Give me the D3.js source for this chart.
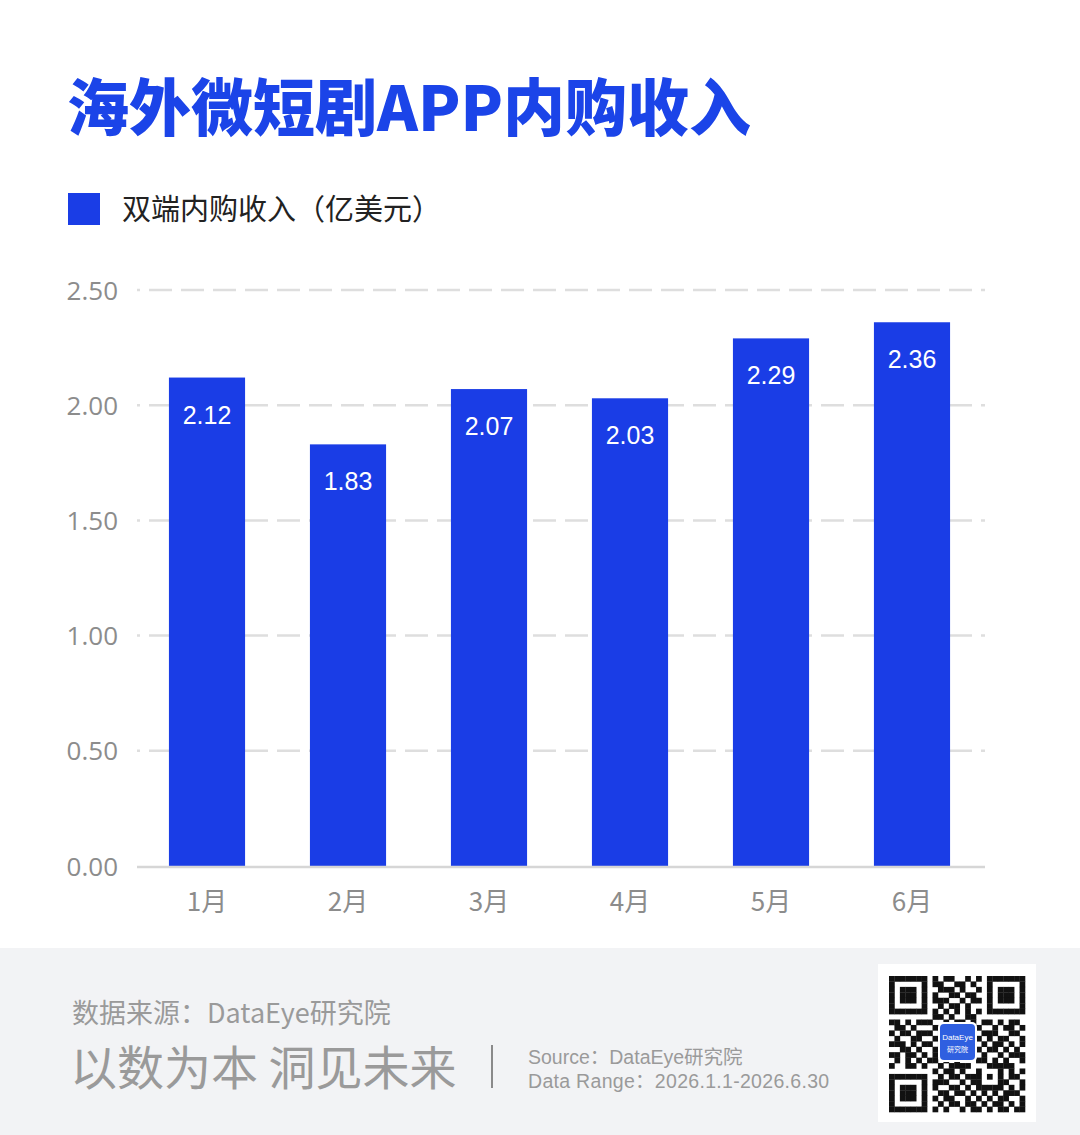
<!DOCTYPE html>
<html><head><meta charset="utf-8">
<script src="https://cdn.jsdelivr.net/npm/d3@7"></script>
<style>
html,body{margin:0;padding:0;background:#fff;}
svg{display:block;}
</style></head>
<body>
<script>
const title = "海外微短剧APP内购收入";
const seriesName = "双端内购收入（亿美元）";
const months = ["1月","2月","3月","4月","5月","6月"];
const revenue = [2.12, 1.83, 2.07, 2.03, 2.29, 2.36];
const yTicks = [0, 0.5, 1.0, 1.5, 2.0, 2.5];
const sourceCN = "数据来源：DataEye研究院";
const slogan = "以数为本 洞见未来";
const sourceEN = "Source：DataEye研究院";
const rangeEN = "Data Range：2026.1.1-2026.6.30";
const qrRows = [
"1111111010110010101111111",
"1000001011001101001000001",
"1011101001110100101011101",
"1011101010011011001011101",
"1011101011100101101011101",
"1000001001011010001000001",
"1111111010101010101111111",
"0000000011010011000000000",
"1101011100101101011010110",
"0110100011010110100101101",
"1011011101001011011100110",
"0100110010110100101011001",
"1110101101001101010110101",
"0011010010110010101101010",
"1101101011010111010010111",
"0101010110101000110101001",
"1001101001011110001111100",
"0000000010110100100010101",
"1111111001011011101010110",
"1000001011100101100011001",
"1011101010011010111110101",
"1011101001101101010101110",
"1011101010110010101011001",
"1000001001011011010110101",
"1111111010100101101011011"
];

const W = 1080, H = 1135;
const BLUE = "#1a3de6";
const CJK = "'Noto Sans CJK SC','Noto Sans',sans-serif";
const NUM = "'Open Sans','Noto Sans',sans-serif";
const SMALL = "'Liberation Sans','Noto Sans CJK SC',sans-serif";

const svg = d3.select("body").append("svg").attr("width", W).attr("height", H);
svg.append("rect").attr("width", W).attr("height", H).attr("fill", "#fff");

// Title
svg.append("text").attr("x", 67).attr("y", 131)
  .attr("font-family", CJK).attr("font-weight", 900).attr("font-size", 62)
  .attr("fill", "#1b44e8").attr("letter-spacing", 0).text(title);

// Legend
svg.append("rect").attr("x", 68).attr("y", 193).attr("width", 32).attr("height", 32).attr("fill", BLUE);
svg.append("text").attr("x", 122).attr("y", 220)
  .attr("font-family", CJK).attr("font-size", 29).attr("fill", "#222").text(seriesName);

// Scales
const x = d3.scaleBand().domain(months).range([136.5, 982.5]).paddingInner(0.46).paddingOuter(0.23);
const y = d3.scaleLinear().domain([0, 2.5]).range([866, 290]);

// Gridlines
const grid = svg.append("g");
grid.selectAll("line").data(yTicks.filter(d => d > 0)).join("line")
  .attr("x1", 137).attr("x2", 985)
  .attr("y1", d => y(d)).attr("y2", d => y(d))
  .attr("stroke", "#dedede").attr("stroke-width", 2.5)
  .attr("stroke-dasharray", "23,9").attr("stroke-dashoffset", 20);

// Y axis labels
const yAxis = d3.axisLeft(y).tickValues(yTicks).tickFormat(d3.format(".2f")).tickSize(0).tickPadding(0);
const yg = svg.append("g").attr("transform", "translate(118,0)").call(yAxis);
yg.select(".domain").remove();
yg.selectAll("text").attr("font-family", NUM).attr("font-size", 26).attr("fill", "#8c8c8c").attr("dy", "0.35em");

// Bars
svg.append("g").selectAll("rect").data(revenue).join("rect")
  .attr("x", (d, i) => x(months[i])).attr("width", x.bandwidth())
  .attr("y", d => y(d)).attr("height", d => y(0) - y(d))
  .attr("fill", BLUE);

// Value labels
svg.append("g").selectAll("text").data(revenue).join("text")
  .attr("x", (d, i) => x(months[i]) + x.bandwidth() / 2)
  .attr("y", d => y(d) + 46)
  .attr("text-anchor", "middle").attr("font-family", "'Liberation Sans',Arial,sans-serif")
  .attr("font-size", 25).attr("fill", "#fff").text(d => d.toFixed(2));

// Baseline
svg.append("line").attr("x1", 137).attr("x2", 985).attr("y1", y(0) + 1).attr("y2", y(0) + 1)
  .attr("stroke", "#d6d6d6").attr("stroke-width", 2.5);

// X axis
const xAxis = d3.axisBottom(x).tickSize(0).tickPadding(0);
const xg = svg.append("g").attr("transform", "translate(0,911)").call(xAxis);
xg.select(".domain").remove();
xg.selectAll("text").attr("font-family", CJK).attr("font-size", 26).attr("fill", "#8c8c8c").attr("dy", 0);

// Footer
svg.append("rect").attr("x", 0).attr("y", 948).attr("width", W).attr("height", H - 948).attr("fill", "#f2f3f5");
svg.append("text").attr("x", 72).attr("y", 1023).attr("font-family", CJK).attr("font-size", 27)
  .attr("fill", "#9a9a9a").text(sourceCN);
svg.append("text").attr("x", 70).attr("y", 1085).attr("font-family", CJK).attr("font-size", 47)
  .attr("fill", "#9a9a9a").text(slogan);
svg.append("line").attr("x1", 492).attr("x2", 492).attr("y1", 1045).attr("y2", 1088)
  .attr("stroke", "#8a8a8a").attr("stroke-width", 2);
svg.append("text").attr("x", 528).attr("y", 1064).attr("font-family", SMALL).attr("font-size", 19.5)
  .attr("letter-spacing", 0).attr("fill", "#9a9a9a").text(sourceEN);
svg.append("text").attr("x", 528).attr("y", 1088).attr("font-family", SMALL).attr("font-size", 19.5)
  .attr("letter-spacing", 0.3).attr("fill", "#9a9a9a").text(rangeEN);

// QR code
const qr = svg.append("g");
qr.append("rect").attr("x", 878).attr("y", 964).attr("width", 158).attr("height", 158).attr("fill", "#fff");
const ms = 136 / 25;
const cells = [];
qrRows.forEach((row, r) => row.split("").forEach((c, k) => { if (c === "1") cells.push([r, k]); }));
qr.selectAll("rect.m").data(cells).join("rect").attr("class", "m")
  .attr("x", d => 889 + d[1] * ms).attr("y", d => 976 + d[0] * ms)
  .attr("width", ms + 0.3).attr("height", ms + 0.3).attr("fill", "#111");
qr.append("rect").attr("x", 938).attr("y", 1022).attr("width", 39).attr("height", 40).attr("rx", 5)
  .attr("fill", "#fff");
qr.append("rect").attr("x", 940).attr("y", 1024).attr("width", 35).attr("height", 36).attr("rx", 4)
  .attr("fill", "#2f5fe0");
qr.append("text").attr("x", 957.5).attr("y", 1040).attr("text-anchor", "middle").attr("font-family", "'Liberation Sans',sans-serif")
  .attr("font-size", 8).attr("fill", "#fff").text("DataEye");
qr.append("text").attr("x", 957.5).attr("y", 1052).attr("text-anchor", "middle").attr("font-family", CJK)
  .attr("font-size", 7).attr("fill", "#fff").text("研究院");
</script>
</body></html>
